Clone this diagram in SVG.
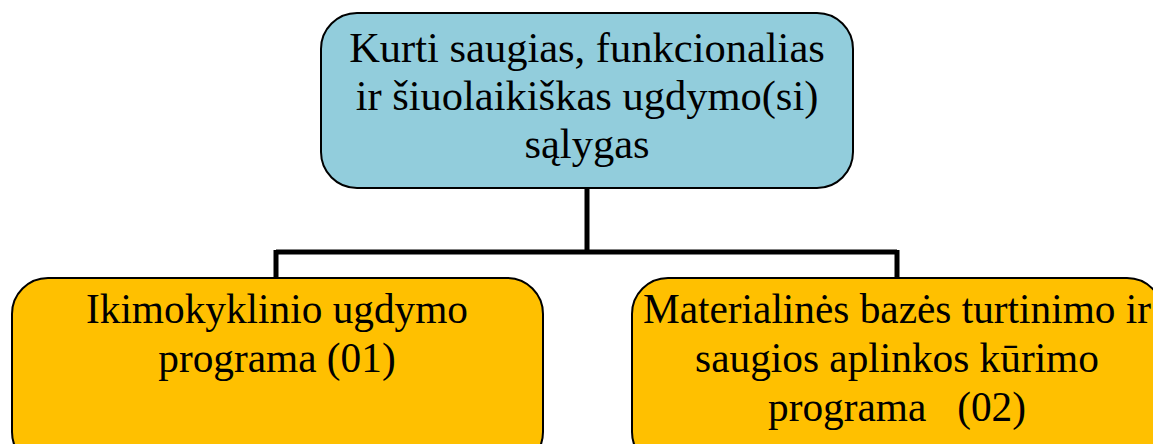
<svg xmlns="http://www.w3.org/2000/svg" width="1153" height="444" viewBox="0 0 1153 444">
<style>
.box{stroke:#000;stroke-width:2}
.blue{fill:#92CDDC}
.orange{fill:#FFC000}
.t{font-family:"Liberation Serif","Times New Roman",serif;font-size:42.5px;fill:#000;text-anchor:middle;white-space:pre}
.s{font-size:41.3px}
.c{fill:none;stroke:#000;stroke-width:5}
</style>
<rect width="1153" height="444" fill="#fff"/>
<g id="connectors">
<path class="c" d="M587,188 V252 M276,252 H897 M276,250 V278 M897,250 V278"/>
</g>
<g id="top">
<rect class="box blue" x="321" y="13" width="532" height="175" rx="36"/>
<text class="t" x="587" y="62">Kurti saugias, funkcionalias</text>
<text class="t" x="587" y="110">ir šiuolaikiškas ugdymo(si)</text>
<text class="t" x="587" y="158">sąlygas</text>
</g>
<g id="left">
<rect class="box orange" x="12" y="278" width="531" height="190" rx="36"/>
<text class="t s" x="277" y="323">Ikimokyklinio ugdymo</text>
<text class="t s" x="277" y="372">programa (01)</text>
</g>
<g id="right">
<rect class="box orange" x="632" y="278" width="531" height="190" rx="36"/>
<text class="t s" x="897" y="323">Materialinės bazės turtinimo ir</text>
<text class="t s" x="897" y="372">saugios aplinkos kūrimo</text>
<text class="t s" x="897" y="421" xml:space="preserve">programa   (02)</text>
</g>
</svg>
